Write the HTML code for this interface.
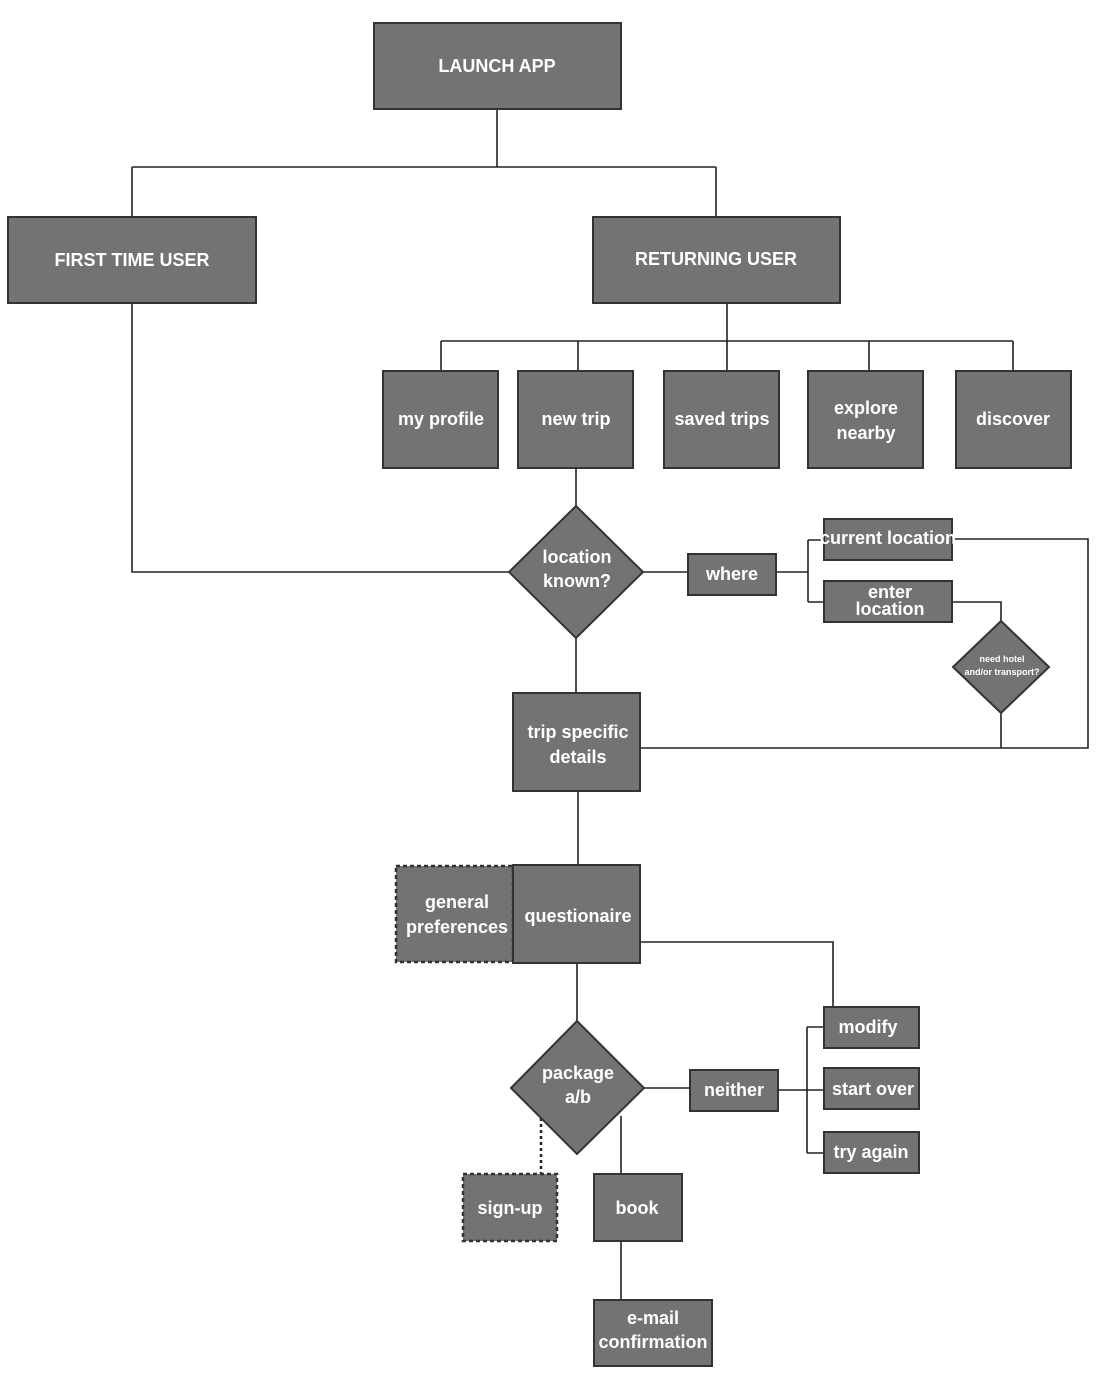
<!DOCTYPE html>
<html><head><meta charset="utf-8"><style>
html,body{margin:0;padding:0;background:#fff;}
svg{display:block;}
text{font-family:"Liberation Sans Narrow","Liberation Sans",sans-serif;font-weight:bold;fill:#fff;text-anchor:middle;dominant-baseline:central;font-stretch:condensed;}
.b{fill:#737373;stroke:#333;stroke-width:2;}
.d{fill:#737373;stroke:#333;stroke-width:2.5;stroke-dasharray:4 3;}
.l{fill:none;stroke:#222;stroke-width:1.6;}
</style></head><body>
<svg width="1100" height="1375" viewBox="0 0 1100 1375" xmlns="http://www.w3.org/2000/svg">
<!-- connectors -->
<path class="l" d="M497 109V167M132 167H716M132 167V217M716 167V217"/>
<path class="l" d="M727 303V341M441 341H1013M441 341V371M578 341V371M727 341V371M869 341V371M1013 341V371"/>
<path class="l" d="M576 468V506M132 303V572H509M643 572H688M776 572H808M808 540V602M808 540H824M808 602H824"/>
<path class="l" d="M952 539H1088V748H641M952 602H1001V621M1001 713V748"/>
<path class="l" d="M576 638V693M578 791V865M640 942H833V1007"/>
<path class="l" d="M577 963V1021M644 1088H690M778 1090H807M807 1027V1153M807 1027H824M807 1090H824M807 1153H824"/>
<path class="l" d="M621 1116V1174M621 1241V1300"/>
<path d="M541 1118V1174" fill="none" stroke="#222" stroke-width="2.5" stroke-dasharray="3 3"/>
<!-- boxes -->
<rect class="b" x="374" y="23" width="247" height="86"/><text x="497" y="66" font-size="18">LAUNCH APP</text>
<rect class="b" x="8" y="217" width="248" height="86"/><text x="132" y="260" font-size="18">FIRST TIME USER</text>
<rect class="b" x="593" y="217" width="247" height="86"/><text x="716" y="259" font-size="18">RETURNING USER</text>
<rect class="b" x="383" y="371" width="115" height="97"/><text x="441" y="419" font-size="18">my profile</text>
<rect class="b" x="518" y="371" width="115" height="97"/><text x="576" y="419" font-size="18">new trip</text>
<rect class="b" x="664" y="371" width="115" height="97"/><text x="722" y="419" font-size="18">saved trips</text>
<rect class="b" x="808" y="371" width="115" height="97"/><text x="866" y="408" font-size="18">explore</text><text x="866" y="433" font-size="18">nearby</text>
<rect class="b" x="956" y="371" width="115" height="97"/><text x="1013" y="419" font-size="18">discover</text>
<polygon class="b" points="576,506 643,572 576,638 509,572"/><text x="577" y="557" font-size="18">location</text><text x="577" y="581" font-size="18">known?</text>
<rect class="b" x="688" y="554" width="88" height="41"/><text x="732" y="574" font-size="18">where</text>
<rect class="b" x="824" y="519" width="128" height="41"/><text x="888" y="538" font-size="18">current location</text>
<rect class="b" x="824" y="581" width="128" height="41"/><text x="890" y="592" font-size="18">enter</text><text x="890" y="609" font-size="18">location</text>
<polygon class="b" points="1001,621 1049,667 1001,713 953,667"/><text x="1002" y="659" font-size="9">need hotel</text><text x="1002" y="672" font-size="9">and/or transport?</text>
<rect class="b" x="513" y="693" width="127" height="98"/><text x="578" y="732" font-size="18">trip specific</text><text x="578" y="757" font-size="18">details</text>
<rect class="d" x="396" y="866" width="117" height="96"/><text x="457" y="902" font-size="18">general</text><text x="457" y="927" font-size="18">preferences</text>
<rect class="b" x="513" y="865" width="127" height="98"/><text x="578" y="916" font-size="18">questionaire</text>
<polygon class="b" points="577,1021 644,1088 577,1154 511,1088"/><text x="578" y="1073" font-size="18">package</text><text x="578" y="1097" font-size="18">a/b</text>
<rect class="b" x="690" y="1070" width="88" height="41"/><text x="734" y="1090" font-size="18">neither</text>
<rect class="b" x="824" y="1007" width="95" height="41"/><text x="868" y="1027" font-size="18">modify</text>
<rect class="b" x="824" y="1068" width="95" height="41"/><text x="873" y="1089" font-size="18">start over</text>
<rect class="b" x="824" y="1132" width="95" height="41"/><text x="871" y="1152" font-size="18">try again</text>
<rect class="d" x="463" y="1174" width="94" height="67"/><text x="510" y="1208" font-size="18">sign-up</text>
<rect class="b" x="594" y="1174" width="88" height="67"/><text x="637" y="1208" font-size="18">book</text>
<rect class="b" x="594" y="1300" width="118" height="66"/><text x="653" y="1318" font-size="18">e-mail</text><text x="653" y="1342" font-size="18">confirmation</text>
</svg>
</body></html>
